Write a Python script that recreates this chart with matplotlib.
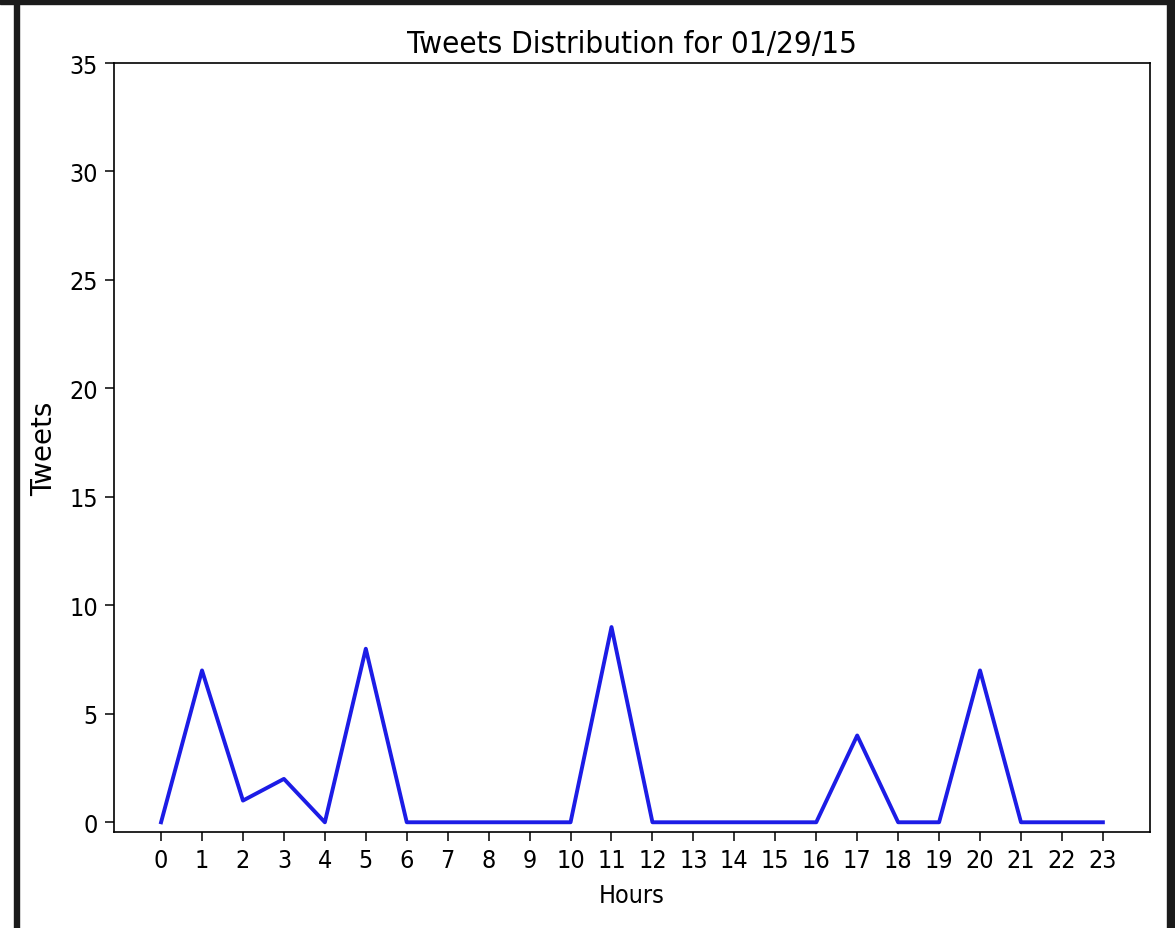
import matplotlib
matplotlib.use("Agg")
import matplotlib.pyplot as plt
from matplotlib.patches import Rectangle
from matplotlib import font_manager

# tweets per hour of the day
hours = list(range(24))
tweets = [0, 7, 1, 2, 0, 8, 0, 0, 0, 0, 0, 9, 0, 0, 0, 0, 0, 4, 0, 0, 7, 0, 0, 0]
title = "Tweets Distribution for 01/29/15"

# narrow face if the system has one
stretch = "normal"
try:
    path = font_manager.findfont(font_manager.FontProperties(family="DejaVu Sans", stretch="condensed"),
                                 fallback_to_default=False)
    if "Condensed" in path:
        stretch = "condensed"
except Exception:
    pass

plt.rcParams["font.family"] = "DejaVu Sans"
plt.rcParams["font.stretch"] = stretch

fig = plt.figure(figsize=(11.75, 9.29), dpi=100)
ax = fig.add_axes([0.097, 0.1033, 0.8817, 0.8278])

ax.plot(hours, tweets, color="#1c1ce6", linewidth=2.8)
ax.set_ylim(top=35)
ax.set_xticks(hours)
ax.set_title(title, fontsize=22.5, pad=8)
ax.set_xlabel("Hours", fontsize=18, labelpad=8)
ax.set_ylabel("Tweets", fontsize=20, fontstretch="normal", labelpad=8)
ax.tick_params(labelsize=18, length=6.5, width=1.1, pad=5)
for sp in ax.spines.values():
    sp.set_linewidth(1.2)

# dark screen frame around the figure
frame = "#1b1b1b"
W, H = 1175, 929
for x0, y0, w, h in [(0, 924, W, 5), (14, 0, 5, H), (1167, 0, 8, H)]:
    fig.patches.append(Rectangle((x0 / W, y0 / H), w / W, h / H,
                                 transform=fig.transFigure, color=frame, zorder=10))

fig.savefig("out.png", dpi=100)
